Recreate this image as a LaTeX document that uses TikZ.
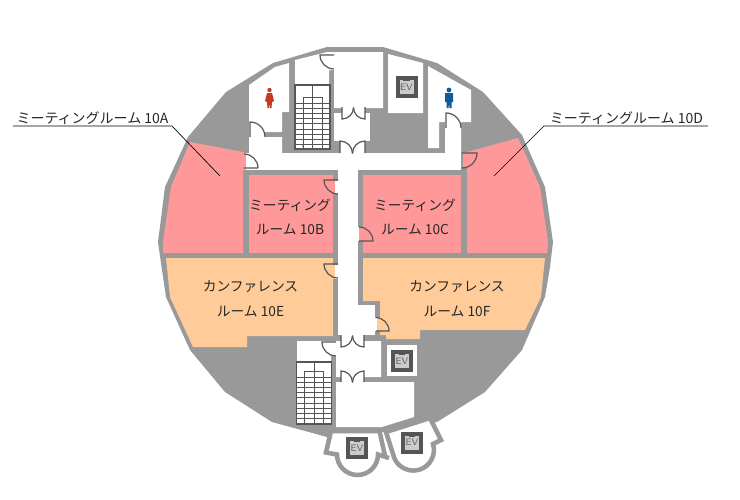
\documentclass[tikz,border=0pt]{standalone}
\usepackage{fontspec}
\newfontfamily\cjk{Noto Sans CJK JP}
\definecolor{wall}{HTML}{999999}
\definecolor{pinkroom}{HTML}{FF9999}
\definecolor{orangeroom}{HTML}{FFCC99}
\definecolor{doorline}{HTML}{555555}
\definecolor{evdark}{HTML}{555555}
\definecolor{evlight}{HTML}{CCCCCC}
\definecolor{womanred}{HTML}{C63A22}
\definecolor{manblue}{HTML}{0F5C9A}
\tikzset{
  floorwall/.style={fill=wall,draw=none},
  openfloor/.style={fill=white,draw=none},
  pinkarea/.style={fill=pinkroom,draw=none},
  orangearea/.style={fill=orangeroom,draw=none},
  swingdoor/.style={draw=doorline,line width=0.9pt},
  stairline/.style={draw=doorline,line width=0.55pt},
  stairframe/.style={draw=doorline,fill=white,line width=1.1pt},
  towerwall/.style={draw=wall,line width=3.4pt,line join=miter},
  leader/.style={draw=black,line width=0.5pt},
  roomlabel/.style={font=\cjk\fontsize{10.3}{12}\selectfont,text=black!85,inner sep=0pt},
  callout/.style={font=\cjk\fontsize{10.5}{12}\selectfont,text=black!85,inner sep=0pt},
  evbox/.style={fill=evdark,draw=none,minimum size=16.5pt,inner sep=0pt},
  evtext/.style={font=\sffamily\fontsize{7}{8}\selectfont,text=black!60,fill=evlight,minimum width=10.5pt,minimum height=10.5pt,inner sep=0pt},
}
\newcommand{\evmark}[2]{%
  \node[evbox] (ev#1) at (#2) {};
  \node[evtext] (evt#1) at (#2) {EV};
  \draw[evdark,line width=0.35pt] ([xshift=-2.5pt,yshift=-0.6pt]evt#1.north) -- ([xshift=2.5pt,yshift=-0.6pt]evt#1.north);
}
\newcommand{\stairblock}[4]{% x, y, height, first tread offset
  \begin{scope}[shift={(#1,#2)}]
    \draw[stairframe] (0,0) rectangle (35,#3);
    \draw[stairline] (17.5,0) -- (17.5,#3);
    \draw[stairline] (8,#3) -- (8,#4-6) -- (27,#4-6) -- (27,#3);
    \foreach \i in {0,...,8}{\draw[stairline] (0,#4+\i*5.2) -- (35,#4+\i*5.2);}
    \fill[doorline] (8,#3-3) circle (0.9);
  \end{scope}
}
\newcommand{\doubleU}[4]{% x1,x2,ytop,ybottom
  \pgfmathsetmacro{\rr}{(#2-#1)/2}
  \draw[swingdoor] (#1,#3) -- (#1,#4) arc[start angle=90,end angle=0,radius=\rr];
  \draw[swingdoor] (#2,#3) -- (#2,#4) arc[start angle=90,end angle=180,radius=\rr];
}
\newcommand{\doubleM}[4]{% x1,x2,ytop,ybottom
  \pgfmathsetmacro{\rr}{(#2-#1)/2}
  \draw[swingdoor] (#1,#4) -- (#1,#3) arc[start angle=270,end angle=360,radius=\rr];
  \draw[swingdoor] (#2,#4) -- (#2,#3) arc[start angle=270,end angle=180,radius=\rr];
}
\begin{document}
\begin{tikzpicture}[x=0.75pt,y=-0.75pt]
\useasboundingbox (0,0) rectangle (740,500);
\fill[white] (0,0) rectangle (740,500);
% main body
\fill[floorwall] (327,47) -- (383,47) -- (437,63) -- (483,92) -- (522,135) -- (545,187) -- (553,242) -- (550,267) -- (545,297) -- (522,350) -- (485,392) -- (437,422) -- (385,432) -- (327,437) -- (272,422) -- (225,392) -- (190,350) -- (166,297) -- (162,270) -- (158,242) -- (165,187) -- (188,137) -- (226,92) -- (273,63) -- cycle;
% towers
\fill[white] (331,431) -- (326,452.5) -- (337,454.5) arc[start angle=180,end angle=0,radius=20.5] -- (385,456) -- (379.5,431) -- cycle;
\draw[towerwall] (331,431) -- (326,452.5) -- (337,454.5) arc[start angle=180,end angle=0,radius=20.5] -- (389,458);
\draw[towerwall] (385,456) -- (379.5,431) -- (331,431);
\draw[towerwall,fill=white] (386,432) -- (430,418) -- (441,440) -- (433,444) arc[start angle=-17,end angle=166,radius=20.6] -- cycle;
% pink rooms
\fill[pinkarea] (190,142) -- (243,152) -- (246,153) -- (246,170) -- (243,170) -- (243,253) -- (163,253) -- (163,242) -- (171,187) -- cycle;
\fill[pinkarea] (249,175) -- (333,175) -- (333,253) -- (249,253) -- cycle;
\fill[pinkarea] (363,175) -- (461,175) -- (461,253) -- (363,253) -- cycle;
\fill[pinkarea] (463,153) -- (467,152) -- (518,138) -- (540,187) -- (548,242) -- (547,253) -- (467,253) -- (467,167) -- (463,167) -- cycle;
\fill[pinkarea] (333,181) rectangle (335,194);
\fill[pinkarea] (359,227) rectangle (363,241);
% orange rooms
\fill[orangearea] (166,258) -- (333,258) -- (333,336) -- (247,336) -- (247,347) -- (193,347) -- (170,297) -- cycle;
\fill[orangearea] (333,265) rectangle (335,279);
\fill[orangearea] (363,258) -- (545,258) -- (541,297) -- (525,330) -- (420,330) -- (420,339) -- (386,339) -- (386,335) -- (380,335) -- (380,331) -- (377,331) -- (377,317) -- (380,317) -- (380,301) -- (363,301) -- cycle;
% white floors: upper core
\fill[openfloor] (249,85) -- (275,67) -- (289,63) -- (289,112) -- (282,112) -- (282,132) -- (265,132) -- (265,137) -- (282,137) -- (282,153) -- (249,153) -- cycle;
\fill[openfloor] (295,60) -- (327,52) -- (383,52) -- (383,108) -- (334,108) -- (334,70) -- (329,70) -- (329,86) -- (295,86) -- cycle;
\fill[openfloor] (342,107) rectangle (365,113);
\fill[openfloor] (334,113) rectangle (370,141);
\fill[openfloor] (340,141) rectangle (365,153);
\fill[openfloor] (388,54) -- (423,63) -- (423,113) -- (388,113) -- cycle;
\fill[openfloor] (428,66) -- (471,90) -- (471,122) -- (461,122) -- (461,153) -- (445,153) -- (445,122) -- (439,122) -- (439,148) -- (428,148) -- cycle;
% corridors
\fill[openfloor] (246,153) rectangle (461,170);
\fill[openfloor] (338,170) rectangle (358,335);
\fill[openfloor] (358,305) rectangle (375,335);
\fill[openfloor] (375,317) rectangle (377,331);
\fill[openfloor] (335,181) rectangle (338,194);
\fill[openfloor] (335,265) rectangle (338,279);
\fill[openfloor] (358,227) rectangle (359,241);
% white floors: lower core
\fill[openfloor] (341,335) rectangle (364,341);
\fill[openfloor] (297,341) -- (381,341) -- (381,377) -- (336,377) -- (336,356) -- (331,356) -- (331,362) -- (297,362) -- cycle;
\fill[openfloor] (341,377) rectangle (364,382);
\fill[openfloor] (387,345) rectangle (417,376);
\fill[openfloor] (336,382) -- (414,382) -- (414,417) -- (382,427) -- (336,427) -- cycle;
% stairs
\stairblock{295}{85}{64}{18}
\stairblock{296.5}{362}{62}{15}
% doors
\draw[swingdoor] (334,55) -- (320,55) arc[start angle=180,end angle=90,radius=14];
\draw[swingdoor] (250,137) -- (250,122) arc[start angle=270,end angle=360,radius=15];
\draw[swingdoor] (258,168) -- (244,168) (244,154) arc[start angle=270,end angle=360,radius=14];
\draw[swingdoor] (462,153) -- (477,153) arc[start angle=0,end angle=90,radius=15];
\draw[swingdoor] (446,128) -- (446,113) arc[start angle=270,end angle=360,radius=15];
\draw[swingdoor] (338,180) -- (324,180) arc[start angle=180,end angle=90,radius=14];
\draw[swingdoor] (338,264) -- (324,264) arc[start angle=180,end angle=90,radius=14];
\draw[swingdoor] (359,241) -- (373,241) arc[start angle=0,end angle=-90,radius=14];
\draw[swingdoor] (376,331) -- (389,331) arc[start angle=0,end angle=-90,radius=13.5];
\draw[swingdoor] (336,342) -- (322,342) arc[start angle=180,end angle=90,radius=14];
\doubleU{342}{365}{107}{119}
\doubleM{340}{365}{141}{153}
\doubleU{341}{364}{335}{347}
\doubleM{341}{364}{371}{382}
% EV
\evmark{a}{406.5,87}
\evmark{b}{402,361}
\evmark{c}{357,448}
\evmark{d}{412,442.5}
% figures
\fill[womanred] (269.5,90) circle (2.2);
\fill[womanred] (267,93) -- (272,93) -- (274,101) -- (272,102) -- (271.5,108) -- (270,108) -- (269.5,103) -- (269,108) -- (267.5,108) -- (267,102) -- (265,101) -- cycle;
\fill[manblue] (449,90) circle (2.4);
\fill[manblue] (445,93) -- (453,93) -- (453,102) -- (451.5,102) -- (451.5,108) -- (449.5,108) -- (449,103) -- (448.5,108) -- (446.5,108) -- (446.5,102) -- (445,102) -- cycle;
% labels
\node[roomlabel] (lb1) at (290,205) {ミーティング};
\node[roomlabel] (lb2) at (290,229) {ルーム 10B};
\node[roomlabel] (lc1) at (415,205) {ミーティング};
\node[roomlabel] (lc2) at (415,229) {ルーム 10C};
\node[roomlabel] (le1) at (250.5,287) {カンファレンス};
\node[roomlabel] (le2) at (250.5,311) {ルーム 10E};
\node[roomlabel] (lf1) at (457,287) {カンファレンス};
\node[roomlabel] (lf2) at (457,311) {ルーム 10F};
\node[callout] (ta) at (92.5,118) {ミーティングルーム 10A};
\node[callout] (td) at (626.5,118) {ミーティングルーム 10D};
\coordinate (aend) at (13,126);
\coordinate (abend) at (172,126);
\coordinate (pa) at (220,176);
\coordinate (dend) at (708,126);
\coordinate (dbend) at (544,126);
\coordinate (pd) at (494,176);
\draw[leader] (aend) -- (abend) -- (pa);
\draw[leader] (dend) -- (dbend) -- (pd);
\end{tikzpicture}
\end{document}
